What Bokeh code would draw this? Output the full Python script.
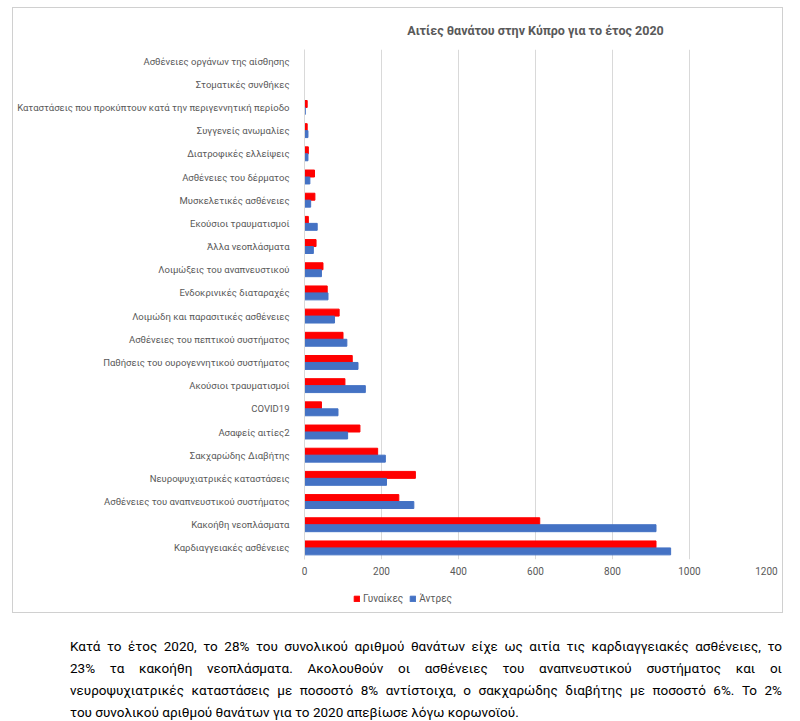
from bokeh.plotting import figure
from bokeh.models import ColumnDataSource, FactorRange, Legend, LegendItem, FixedTicker, Div
from bokeh.transform import dodge
from bokeh.layouts import column
from bokeh.embed import file_html
from bokeh.resources import INLINE

# categories listed bottom to top
categories = [
    "Καρδιαγγειακές ασθένειες",
    "Κακοήθη νεοπλάσματα",
    "Ασθένειες του αναπνευστικού συστήματος",
    "Νευροψυχιατρικές καταστάσεις",
    "Σακχαρώδης Διαβήτης",
    "Ασαφείς αιτίες2",
    "COVID19",
    "Ακούσιοι τραυματισμοί",
    "Παθήσεις του ουρογεννητικού συστήματος",
    "Ασθένειες του πεπτικού συστήματος",
    "Λοιμώδη και παρασιτικές ασθένειες",
    "Ενδοκρινικές διαταραχές",
    "Λοιμώξεις του αναπνευστικού",
    "Άλλα νεοπλάσματα",
    "Εκούσιοι τραυματισμοί",
    "Μυσκελετικές ασθένειες",
    "Ασθένειες του δέρματος",
    "Διατροφικές ελλείψεις",
    "Συγγενείς ανωμαλίες",
    "Καταστάσεις που προκύπτουν κατά την περιγεννητική περίοδο",
    "Στοματικές συνθήκες",
    "Ασθένειες οργάνων της αίσθησης",
]
women = [913, 611, 245, 288, 190, 144, 44, 105, 124, 100, 90, 59, 48, 30, 10, 27, 26, 10, 7, 7, 0, 0]
men = [951, 913, 284, 213, 210, 112, 87, 158, 139, 110, 78, 61, 44, 23, 33, 16, 14, 9, 9, 2, 0, 0]
x_ticks = [0, 200, 400, 600, 800, 1000, 1200]
series_names = ["Γυναίκες", "Άντρες"]
series_colors = ["#FF0000", "#4472C4"]
title_text = "Αιτίες θανάτου στην Κύπρο για το έτος 2020"
paragraph_lines = [
    "Κατά το έτος 2020, το 28% του συνολικού αριθμού θανάτων είχε ως αιτία τις καρδιαγγειακές ασθένειες, το",
    "23% τα κακοήθη νεοπλάσματα. Ακολουθούν οι ασθένειες του αναπνευστικού συστήματος και οι",
    "νευροψυχιατρικές καταστάσεις με ποσοστό 8% αντίστοιχα, ο σακχαρώδης διαβήτης με ποσοστό 6%. Το 2%",
    "του συνολικού αριθμού θανάτων για το 2020 απεβίωσε λόγω κορωνοϊού.",
]

source = ColumnDataSource(dict(cat=categories, women=women, men=men))

FONT = "Roboto"
GRAY = "#595959"

p = figure(
    y_range=FactorRange(factors=categories),
    x_range=(0, 1200),
    width=769, height=579,
    output_backend="svg", toolbar_location=None,
    min_border_left=291, min_border_right=16, min_border_top=41, min_border_bottom=28,
    title=title_text,
)
p.title.align = "center"
p.title.text_font = FONT
p.title.text_font_size = "12.5px"
p.title.text_font_style = "bold"
p.title.text_color = GRAY
p.title.standoff = 24

p.hbar(y=dodge("cat", 0.15, range=p.y_range), right="women", left=0, height=0.3,
       source=source, color=series_colors[0])
p.hbar(y=dodge("cat", -0.15, range=p.y_range), right="men", left=0, height=0.3,
       source=source, color=series_colors[1])

p.outline_line_color = None
p.ygrid.grid_line_color = None
p.xgrid.grid_line_color = "#d9d9d9"
p.xaxis.ticker = FixedTicker(ticks=x_ticks)
p.xaxis.axis_line_color = None
p.xaxis.major_tick_line_color = None
p.xaxis.minor_tick_line_color = None
p.xaxis.major_label_text_font = FONT
p.xaxis.major_label_text_font_size = "10px"
p.xaxis.major_label_text_color = GRAY
p.xaxis.major_label_standoff = 1

p.yaxis.axis_line_color = "#d9d9d9"
p.yaxis.major_tick_line_color = None
p.yaxis.minor_tick_line_color = None
p.yaxis.major_label_text_font = FONT
p.yaxis.major_label_text_font_size = "9.5px"
p.yaxis.major_label_text_color = GRAY
p.yaxis.major_label_standoff = 9

# legend strip (part of the same chart box); its renderers are hidden copies of the series
pl = figure(width=769, height=25, output_backend="svg", toolbar_location=None,
            x_axis_location=None, y_axis_location=None, min_border=0,
            x_range=p.x_range, y_range=p.y_range)
pl.outline_line_color = None
pl.xgrid.grid_line_color = None
pl.ygrid.grid_line_color = None
rl_w = pl.hbar(y="cat", right="women", left=0, height=0.3, source=source,
               color=series_colors[0], visible=False)
rl_m = pl.hbar(y="cat", right="men", left=0, height=0.3, source=source,
               color=series_colors[1], visible=False)
legend = Legend(items=[LegendItem(label=series_names[0], renderers=[rl_w]),
                       LegendItem(label=series_names[1], renderers=[rl_m])],
                orientation="horizontal", location=(49, 8),
                label_text_font=FONT, label_text_font_size="10px", label_text_color=GRAY,
                glyph_width=7, glyph_height=7, spacing=6, label_standoff=3, label_height=12,
                inactive_fill_alpha=0,
                padding=0, margin=0, border_line_color=None, background_fill_alpha=0)
pl.add_layout(legend, "center")

box = column(p, pl, spacing=0,
             styles={"border": "1px solid #d0d0d0"})
box.margin = (7, 0, 0, 12)

lines_html = ""
for i, line in enumerate(paragraph_lines):
    last = "justify" if i < len(paragraph_lines) - 1 else "left"
    lines_html += (f'<div style="width:712px;text-align:justify;text-align-last:{last};'
                   f'height:22px;line-height:22px;">{line}</div>')

div = Div(text=lines_html, width=712, height=100,
          styles={"font-family": "Roboto", "font-size": "13.5px", "color": "#000000"},
          margin=(22, 0, 0, 70))

layout = column(box, div, spacing=0)

open("out.html", "w").write(file_html(layout, INLINE))
